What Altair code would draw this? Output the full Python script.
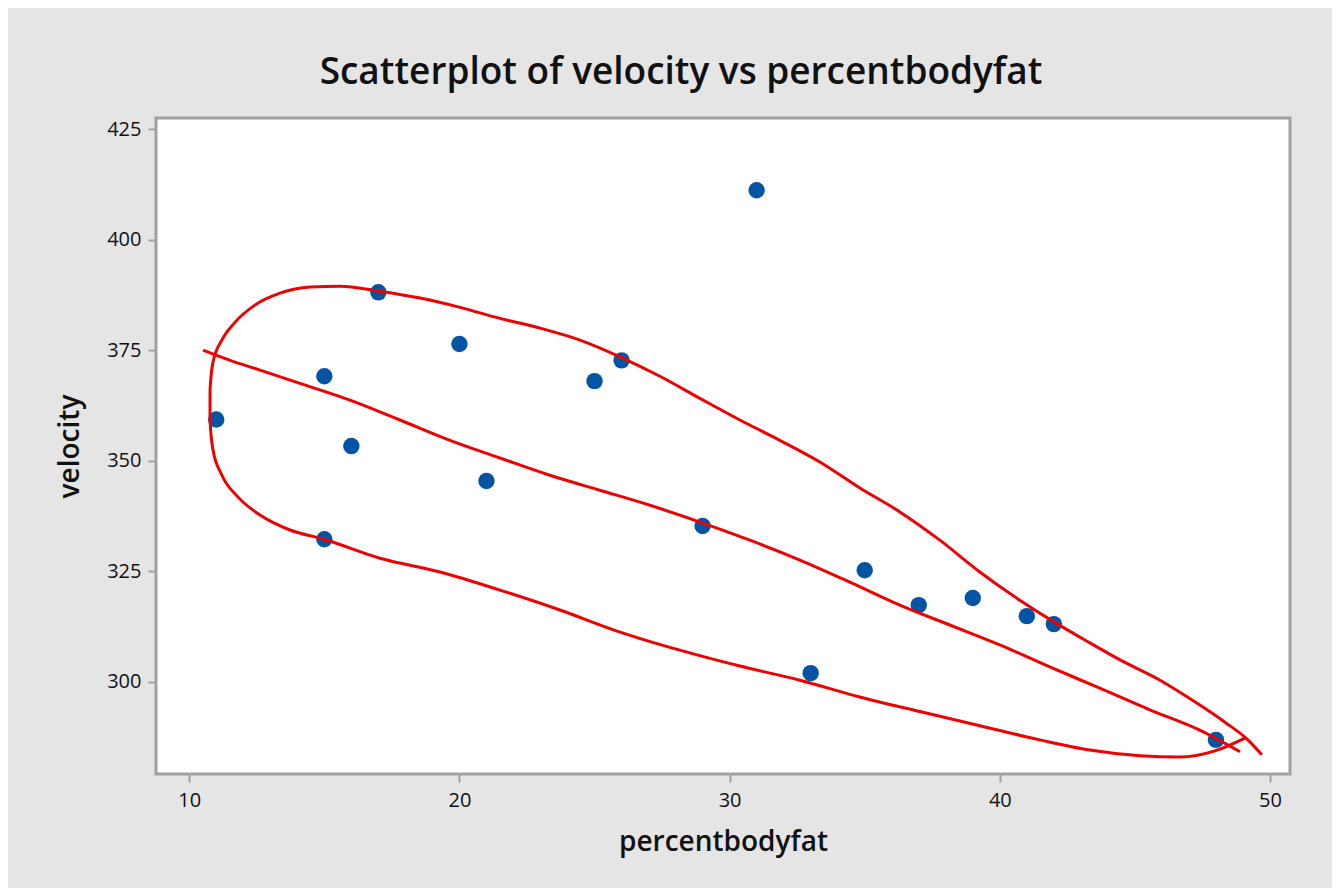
import altair as alt
import pandas as pd

# Scatter data
bodyfat = [11, 15, 16, 15, 17, 20, 21, 25, 26, 29, 31, 33, 35, 37, 39, 41, 42, 48]
velocity = [359.3, 369.1, 353.3, 332.2, 388.1, 376.4, 345.4, 368.0, 372.7, 335.2,
            411.2, 301.9, 325.2, 317.3, 318.9, 314.8, 313.0, 286.8]

# Hand-drawn red annotation: loop (data units)
loop_x = [49.70, 49.18, 48.33, 47.22, 45.93, 44.45, 43.15, 42.00, 40.74, 39.26,
          37.78, 36.30, 34.82, 33.34, 31.86, 30.38, 28.90, 27.42, 25.98, 24.46,
          22.98, 21.50, 20.02, 18.54, 16.98, 15.58, 14.47, 13.36, 12.43, 11.69,
          11.21, 10.88, 10.77, 10.77, 10.88, 11.21, 11.80, 12.62, 13.73, 14.99,
          17.06, 19.28, 21.50, 23.72, 25.94, 28.16, 30.38, 32.60, 34.82, 37.04,
          39.26, 41.48, 43.33, 45.19, 46.67, 47.96, 49.07]
loop_y = [283.4, 286.8, 290.8, 295.4, 300.3, 304.9, 309.4, 313.5, 318.4, 324.8,
          332.0, 338.4, 343.8, 349.7, 354.6, 359.2, 364.1, 369.1, 373.4, 377.3,
          380.0, 382.2, 384.7, 386.8, 388.4, 389.5, 389.3, 387.9, 385.2, 381.3,
          377.3, 372.3, 366.0, 359.2, 352.4, 346.7, 341.8, 337.7, 334.3, 332.2,
          327.9, 324.8, 320.7, 316.2, 311.2, 307.1, 303.5, 300.3, 296.5, 293.2,
          290.0, 286.8, 284.5, 283.2, 282.9, 284.3, 287.2]

# Hand-drawn red annotation: middle line
mid_x = [10.51, 11.51, 12.62, 14.10, 15.95, 17.80, 19.65, 21.50, 23.35, 25.20,
         27.05, 28.90, 30.75, 32.60, 34.45, 36.30, 38.15, 40.00, 41.85, 43.70,
         45.55, 47.40, 48.89]
mid_y = [375.0, 372.7, 370.5, 367.5, 363.7, 359.2, 354.6, 350.6, 346.7, 343.3,
         339.9, 336.1, 332.0, 327.5, 322.5, 317.3, 312.8, 308.3, 303.3, 298.5,
         293.6, 289.0, 284.1]

x_ticks = [10, 20, 30, 40, 50]
y_ticks = [300, 325, 350, 375, 400, 425]

pts = pd.DataFrame({"percentbodyfat": bodyfat, "velocity": velocity})
curves = pd.DataFrame({
    "percentbodyfat": loop_x + mid_x,
    "velocity": loop_y + mid_y,
    "curve": ["loop"] * len(loop_x) + ["mid"] * len(mid_x),
    "i": list(range(len(loop_x))) + list(range(len(mid_x))),
})

FONT = "Open Sans"
xscale = alt.Scale(domain=[8.77, 50.74], nice=False, zero=False)
yscale = alt.Scale(domain=[279.07, 427.56], nice=False, zero=False)

xaxis = alt.Axis(values=x_ticks, title="percentbodyfat", grid=False, domain=False,
                 tickColor="#a0a0a0", tickSize=8, tickWidth=2, labelFontSize=20,
                 labelFont=FONT, labelColor="#111111", labelPadding=8,
                 titleFont=FONT, titleFontSize=28, titleFontWeight=600,
                 titleColor="#111111", titlePadding=18)
yaxis = alt.Axis(values=y_ticks, title="velocity", grid=False, domain=False,
                 tickColor="#a0a0a0", tickSize=8, tickWidth=2, labelFontSize=20,
                 labelFont=FONT, labelColor="#111111", labelPadding=7,
                 titleFont=FONT, titleFontSize=28, titleFontWeight=600,
                 titleColor="#111111", titlePadding=22)

points = alt.Chart(pts).mark_point(filled=True, shape="circle", size=270,
                                   color="#0454a4", opacity=1).encode(
    x=alt.X("percentbodyfat:Q", scale=xscale, axis=xaxis),
    y=alt.Y("velocity:Q", scale=yscale, axis=yaxis),
)

lines = alt.Chart(curves).mark_line(color="#f00000", strokeWidth=3,
                                    interpolate="monotone").encode(
    x=alt.X("percentbodyfat:Q", scale=xscale),
    y=alt.Y("velocity:Q", scale=yscale),
    detail="curve:N",
    order="i:Q",
)

chart = alt.layer(points, lines).properties(
    width=1134, height=656,
    title=alt.TitleParams(text="Scatterplot of velocity vs percentbodyfat",
                          font=FONT, fontSize=37, fontWeight=600,
                          color="#111111", anchor="middle", dx=-42, offset=26),
    background="#e5e5e5",
    padding={"left": 148, "top": 110, "right": 42, "bottom": 114},
    autosize=alt.AutoSizeParams(type="none"),
).configure_view(fill="white", stroke="#a0a0a0", strokeWidth=3)

chart.save("out.html", embed_options={"renderer": "svg", "actions": False})
